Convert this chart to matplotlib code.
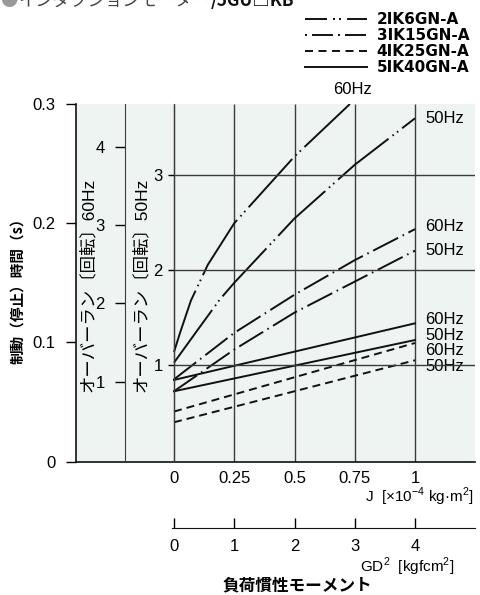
import matplotlib
matplotlib.use('Agg')
import matplotlib.pyplot as plt
from matplotlib import font_manager
from matplotlib.lines import Line2D

CJK = 'Noto Sans CJK JP'
_names = {f.name for f in font_manager.fontManager.ttflist}
NARROW = 'Liberation Sans Narrow' if 'Liberation Sans Narrow' in _names else 'Liberation Sans'

plt.rcParams['font.family'] = [NARROW, CJK, 'DejaVu Sans']
plt.rcParams['lines.scale_dashes'] = False

# --- data (J in x10^-4 kg m^2, braking time in s) ---
J_TICKS = [0, 0.25, 0.5, 0.75, 1]
J_LABELS = ['0', '0.25', '0.5', '0.75', '1']
GD2_TICKS = [0, 1, 2, 3, 4]
TIME_TICKS = [0, 0.1, 0.2, 0.3]
TIME_LABELS = ['0', '0.1', '0.2', '0.3']
OVR60_TICKS = [1, 2, 3, 4]
OVR50_TICKS = [1, 2, 3]

j_2ik6_60 = [0, 0.025, 0.07, 0.14, 0.25, 0.5, 0.73]
t_2ik6_60 = [0.092, 0.108, 0.135, 0.165, 0.200, 0.256, 0.300]
j_2ik6_50 = [0, 0.1, 0.19, 0.25, 0.5, 0.75, 1.0]
t_2ik6_50 = [0.083, 0.111, 0.136, 0.150, 0.204, 0.249, 0.288]
j_3ik15 = [0, 0.25, 0.5, 0.75, 1.0]
t_3ik15_60 = [0.069, 0.108, 0.140, 0.169, 0.195]
t_3ik15_50 = [0.059, 0.094, 0.125, 0.151, 0.177]
j_lin = [0, 1.0]
t_4ik25_60 = [0.042, 0.0995]
t_4ik25_50 = [0.033, 0.085]
t_5ik40_60 = [0.0685, 0.116]
t_5ik40_50 = [0.059, 0.102]

MODELS = ['2IK6GN-A', '3IK15GN-A', '4IK25GN-A', '5IK40GN-A']
# where the "60Hz"/"50Hz" tags sit (s), spread so they do not overlap
TAG_Y = {'2IK6GN-A': (0.312, 0.288), '3IK15GN-A': (0.197, 0.1775),
         '4IK25GN-A': (0.0936, 0.0802), '5IK40GN-A': (0.1188, 0.1062)}

# --- styles ---
PX = 0.72  # px -> pt at dpi 100
STYLE = {
    '2IK6GN-A': (0, (65 * PX, 5 * PX, 1.6 * PX, 4 * PX, 1.6 * PX, 5 * PX)),
    '3IK15GN-A': (0, (28 * PX, 5 * PX, 1.6 * PX, 5 * PX)),
    '4IK25GN-A': (0, (8 * PX, 5 * PX)),
    '5IK40GN-A': '-',
}
LEG_STYLE = {
    '2IK6GN-A': (0, (22 * PX, 6 * PX, 2 * PX, 4 * PX, 2 * PX, 6 * PX)),
    '3IK15GN-A': (26 * PX, (21 * PX, 5 * PX, 2 * PX, 5 * PX)),
    '4IK25GN-A': (0, (8 * PX, 5.5 * PX)),
    '5IK40GN-A': '-',
}
BG = '#eef4f2'
GRID = '#3c3c3c'
INK = '#111111'
LW = 1.4

W, H = 480, 595


def fx(px):
    return px / W


def fy(py):
    return 1 - py / H


fig = plt.figure(figsize=(W / 100, H / 100), dpi=100)

AX_L, AX_R, AX_T, AX_B = 76, 475, 104, 461.6
J0_PX, J1_PX = 174, 415
ppu = J1_PX - J0_PX
xlim = ((AX_L - J0_PX) / ppu, (AX_R - J0_PX) / ppu)

ax = fig.add_axes([fx(AX_L), fy(AX_B), (AX_R - AX_L) / W, (AX_B - AX_T) / H])
ax.set_facecolor(BG)
ax.set_xlim(xlim)
ax.set_ylim(0, 0.3)
for s in ['top', 'right']:
    ax.spines[s].set_visible(False)
for s in ['left', 'bottom']:
    ax.spines[s].set_linewidth(1.2)
    ax.spines[s].set_color(INK)
ax.set_yticks(TIME_TICKS, TIME_LABELS)
ax.tick_params(axis='y', length=7.5, width=1, pad=7.5, labelsize=12)
ax.set_xticks(J_TICKS, J_LABELS)
ax.tick_params(axis='x', length=0, pad=7, labelsize=12)
ax.vlines(J_TICKS, 0, 0.3, colors=GRID, lw=1.0, zorder=1)

# overrun scale 60Hz
x60 = (125 - J0_PX) / ppu
ax60 = ax.twinx()
ax60.set_ylim(-0.02, 4.545)
for s in ax60.spines.values():
    s.set_visible(False)
ax60.spines['left'].set_visible(True)
ax60.spines['left'].set_position(('data', x60))
ax60.spines['left'].set_color(GRID)
ax60.yaxis.set_ticks_position('left')
ax60.set_yticks(OVR60_TICKS)
ax60.tick_params(axis='y', length=7.5, width=1, pad=7, labelsize=12)

# overrun scale 50Hz
ax50 = ax.twinx()
ax50.set_ylim(-0.017, 3.747)
for s in ax50.spines.values():
    s.set_visible(False)
ax50.spines['left'].set_visible(True)
ax50.spines['left'].set_position(('data', 0))
ax50.spines['left'].set_color(GRID)
ax50.yaxis.set_ticks_position('left')
ax50.set_yticks(OVR50_TICKS)
ax50.tick_params(axis='y', length=4.5, width=1, pad=3.5, labelsize=12)
ax50.hlines(OVR50_TICKS, 0, xlim[1], colors=GRID, lw=1.0)

# curves
series = {
    '2IK6GN-A': ((j_2ik6_60, t_2ik6_60), (j_2ik6_50, t_2ik6_50)),
    '3IK15GN-A': ((j_3ik15, t_3ik15_60), (j_3ik15, t_3ik15_50)),
    '4IK25GN-A': ((j_lin, t_4ik25_60), (j_lin, t_4ik25_50)),
    '5IK40GN-A': ((j_lin, t_5ik40_60), (j_lin, t_5ik40_50)),
}
TAG_X = (425 - J0_PX) / ppu
for m in MODELS:
    for (jj, tt), hz, ty in zip(series[m], ['60Hz', '50Hz'], TAG_Y[m]):
        ax.plot(jj, tt, color=INK, lw=LW, linestyle=STYLE[m], zorder=3)
        if ty > 0.3:
            ax.text(jj[-1] + 0.012, ty, hz, ha='center', va='center', fontsize=12)
        else:
            ax.text(TAG_X, ty, hz, ha='left', va='center', fontsize=12, zorder=4,
                    bbox=dict(fc=BG, ec='none', pad=0.4))

# vertical scale titles
for xp, txt in [(87, 'オーバーラン〔回転〕60Hz'), (140, 'オーバーラン〔回転〕50Hz')]:
    ax.text((xp - AX_L) / (AX_R - AX_L), (AX_B - 285) / (AX_B - AX_T), txt,
            transform=ax.transAxes, rotation=90, ha='center', va='center',
            fontsize=12.5, family=[NARROW, CJK])

fig.text(fx(17), fy(287), '制動（停止）時間（s）', rotation=90, ha='center',
         va='center', fontsize=10.5, family=[CJK], weight='bold')

# GD^2 scale
axg = fig.add_axes([fx(AX_L), fy(528), (AX_R - AX_L) / W, 1e-4])
axg.patch.set_visible(False)
axg.set_xlim(xlim)
axg.set_yticks([])
for s in ['top', 'right', 'left']:
    axg.spines[s].set_visible(False)
axg.spines['bottom'].set_bounds(-0.008, xlim[1])
axg.spines['bottom'].set_color(INK)
axg.set_xticks([g / 4 for g in GD2_TICKS], [str(g) for g in GD2_TICKS])
axg.tick_params(axis='x', direction='in', length=7.5, width=1, pad=8, labelsize=12)

fig.text(fx(474), fy(497), r'J  [×10$^{\mathregular{-4}}$ kg·m$^{\mathregular{2}}$]',
         ha='right', va='center', fontsize=11)
fig.text(fx(454), fy(567), r'GD$^{\mathregular{2}}$  [kgfcm$^{\mathregular{2}}$]',
         ha='right', va='center', fontsize=11)
fig.text(fx(297), fy(585), '負荷慣性モーメント', ha='center', va='center',
         fontsize=12, family=[CJK], weight='bold')

# title (clipped at the top edge as in the source)
fig.text(fx(0), fy(6), '●', color='#999999', fontsize=12.5, family=[CJK], va='baseline')
fig.text(fx(19), fy(6), 'インダクションモーター', color='#444444', fontsize=12.5,
         family=[CJK], va='baseline')
fig.text(fx(211), fy(6), '/5GU□KB', color=INK, fontsize=12.5, family=[CJK],
         weight='bold', va='baseline')

# legend
handles = [Line2D([], [], color=INK, lw=LW, linestyle=LEG_STYLE[m]) for m in MODELS]
ax.legend(handles, MODELS, loc='upper left', bbox_to_anchor=(fx(305), fy(12.5)),
          bbox_transform=fig.transFigure, frameon=False,
          prop=dict(family='DejaVu Sans', weight='bold', size=11),
          handlelength=4.05, handletextpad=0.65, labelspacing=0.06,
          borderpad=0, borderaxespad=0)

fig.savefig('out.png', dpi=100)
